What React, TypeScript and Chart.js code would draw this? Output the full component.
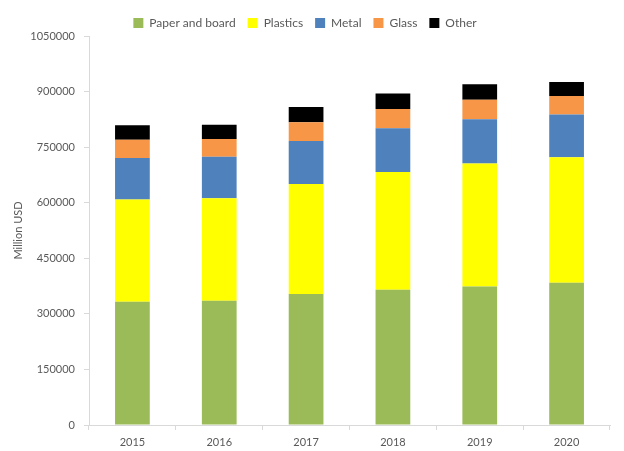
import React, { useEffect, useRef } from "react";
import { Chart, registerables } from "chart.js";

Chart.register(...registerables);

const years = ["2015", "2016", "2017", "2018", "2019", "2020"];
const paperAndBoard = [333000, 335500, 353600, 365000, 374000, 384000];
const plastics = [276000, 276500, 297000, 318000, 332000, 339000];
const metal = [112000, 112000, 116000, 118000, 119000, 115000];
const glass = [49000, 48000, 50500, 52000, 53000, 50000];
const other = [39000, 38500, 41000, 42000, 42000, 38000];

const FONT = "Lato";
const TEXT = "#595959";
const AXIS = "#d9d9d9";

const legendHeightPlugin = {
  id: "legendHeight",
  beforeInit(chart: any) {
    const l = chart.legend;
    if (!l) return;
    const orig = l.fit;
    l.fit = function () {
      orig.call(this);
      this.height = 31;
    };
  },
};

export default function App() {
  const ref = useRef<HTMLCanvasElement | null>(null);
  useEffect(() => {
    if (!ref.current) return;
    const mk = (label: string, data: number[], color: string) => ({
      label,
      data,
      backgroundColor: color,
      borderWidth: 0,
      barPercentage: 0.4,
      categoryPercentage: 1,
    });
    const chart = new Chart(ref.current, {
      type: "bar",
      plugins: [legendHeightPlugin],
      data: {
        labels: years,
        datasets: [
          mk("Paper and board", paperAndBoard, "#9BBB59"),
          mk("Plastics", plastics, "#FFFF00"),
          mk("Metal", metal, "#4F81BD"),
          mk("Glass", glass, "#F79646"),
          mk("Other", other, "#000000"),
        ],
      },
      options: {
        animation: false,
        responsive: true,
        maintainAspectRatio: false,
        layout: { padding: { left: 0, right: 14, top: 5, bottom: 0 } },
        plugins: {
          tooltip: { enabled: false },
          legend: {
            position: "top",
            labels: {
              boxWidth: 10,
              boxHeight: 10,
              padding: 12,
              color: TEXT,
              font: { family: FONT, size: 12 },
            },
          },
        },
        scales: {
          x: {
            stacked: true,
            afterFit: (s: any) => {
              s.height = 26;
            },
            grid: {
              display: true,
              drawOnChartArea: false,
              drawTicks: true,
              tickLength: 5,
              color: AXIS,
              offset: true,
            },
            border: { display: true, color: AXIS },
            ticks: { color: TEXT, font: { family: FONT, size: 11 }, padding: 6 },
          },
          y: {
            stacked: true,
            min: 0,
            max: 1050000,
            afterFit: (s: any) => {
              s.width = 89;
            },
            grid: {
              display: true,
              drawOnChartArea: false,
              drawTicks: true,
              tickLength: 5,
              color: AXIS,
            },
            border: { display: true, color: AXIS },
            ticks: {
              stepSize: 150000,
              color: TEXT,
              font: { family: FONT, size: 11 },
              padding: 9,
              callback: (v: any) => String(v),
            },
            title: {
              display: true,
              text: "Million USD",
              color: TEXT,
              font: { family: FONT, size: 11 },
              padding: { top: 12, bottom: 6 },
            },
          },
        },
      },
    });
    return () => chart.destroy();
  }, []);
  return (
    <div style={{ position: "fixed", left: 0, top: 0, width: 624, height: 451, background: "#fff" }}>
      <canvas ref={ref} />
    </div>
  );
}
